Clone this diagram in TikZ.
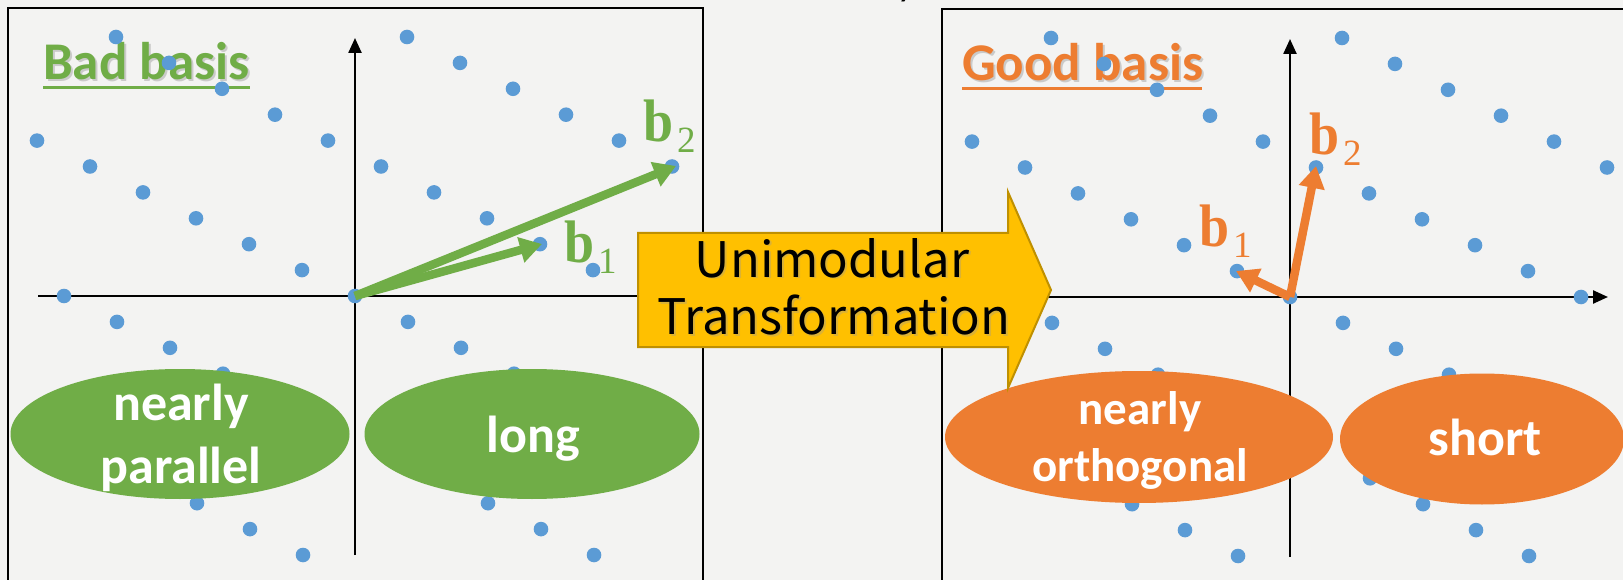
\documentclass[tikz,border=0pt]{standalone}
\usepackage{fontspec}
\setmainfont{Carlito}
\newfontfamily\jpfont{Noto Sans CJK JP}
\newfontfamily\serfont{Liberation Serif}
\usetikzlibrary{arrows.meta,shapes.geometric}
\definecolor{lgreen}{HTML}{70AD47}
\definecolor{lorange}{HTML}{ED7D31}
\definecolor{dotc}{HTML}{5B9BD5}
\definecolor{lyellow}{HTML}{FFC000}
\definecolor{lgold}{HTML}{BF9000}
\definecolor{paper}{HTML}{F3F3F2}
\tikzset{
  panel/.style={draw=black, line width=1.8pt},
  axis/.style={draw=black, line width=2.4pt, -{Triangle[length=15pt,width=13pt]}},
  vec/.style={line width=8.5pt, -{Triangle[length=22pt,width=25pt]}},
  title/.style={font=\fontsize{53}{60}\selectfont\bfseries, anchor=base west, inner sep=0},
  blob/.style={ellipse, inner sep=0},
  blobtext/.style={text=white, font=\fontsize{#1}{#1}\selectfont\bfseries, anchor=base, inner sep=0},
  blabel/.style={anchor=base west, inner sep=0},
  trtext/.style={font=\jpfont\fontsize{49}{49}\selectfont, anchor=base, inner sep=0},
}
\newcommand{\bvec}[1]{\scalebox{0.9}[1]{\serfont\bfseries\fontsize{60}{60}\selectfont b}\kern4pt\raisebox{-11pt}{\serfont\fontsize{37}{37}\selectfont #1}}
\begin{document}
\begin{tikzpicture}[x=1pt,y=-1pt]
\useasboundingbox (0,0) rectangle (1623,580);
\fill[paper] (0,0) rectangle (1623,580);
% fragment of text above
\node[font=\fontsize{40}{40}\selectfont, anchor=base west, inner sep=0] (frag) at (897,-4) {y};
% panels
\draw[panel] (8,620) -- (8,8) -- (703,8) -- (703,620);
\draw[panel] (942,620) -- (942,9) -- (1640,9);
% axes
\coordinate (L0) at (38,296);
\coordinate (L1) at (690,296);
\coordinate (L2) at (355,555);
\coordinate (L3) at (355,38);
\draw[axis] (L0) -- (L1);
\draw[axis] (L2) -- (L3);
\coordinate (R0) at (972,297);
\coordinate (R1) at (1608,297);
\coordinate (R2) at (1290,557);
\coordinate (R3) at (1290,39);
\draw[axis] (R0) -- (R1);
\draw[axis] (R2) -- (R3);
% titles
\node[title, text=black!40, opacity=0.45] (badsh) at (45,82) {Bad basis};
\node[title, text=lgreen] (bad) at (43,80) {Bad basis};
\draw[lgreen, line width=3pt] (43,88) -- (250,88);
\node[title, text=black!40, opacity=0.45] (goodsh) at (964,83) {Good basis};
\node[title, text=lorange] (good) at (962,81) {Good basis};
\draw[lorange, line width=3pt] (962,89) -- (1202,89);
% lattice dots
\foreach \j in {-10,...,10}{
  \foreach \i in {-3,...,3}{
    \pgfmathsetmacro\px{355+291*\i+53*\j}
    \pgfmathsetmacro\py{296+25.9*\j}
    \ifdim\px pt>25pt\relax\ifdim\px pt<690pt\relax
      \fill[dotc] (\px,\py) circle[radius=7.3];
    \fi\fi
    \pgfmathsetmacro\qx{1290+291*\i+53*\j}
    \pgfmathsetmacro\qy{297+25.9*\j}
    \ifdim\qx pt>955pt\relax\ifdim\qx pt<1615pt\relax
      \fill[dotc] (\qx,\qy) circle[radius=7.3];
    \fi\fi
  }
}
% basis vectors
\coordinate (O1) at (355,296);
\coordinate (G1) at (542,244);
\coordinate (G2) at (676,166);
\draw[vec, lgreen] (O1) -- (G1);
\draw[vec, lgreen] (O1) -- (G2);
\coordinate (O2) at (1290,297);
\coordinate (H1) at (1236,271);
\coordinate (H2) at (1316,166);
\draw[vec, lorange] (O2) -- (H1);
\draw[vec, lorange] (O2) -- (H2);
% vector labels
\node[blabel, text=lgreen] (gb2) at (643,142) {\bvec{2}};
\node[blabel, text=lgreen] (gb1) at (564,262) {\bvec{1}};
\node[blabel, text=lorange] (ob2) at (1309,155) {\bvec{2}};
\node[blabel, text=lorange] (ob1) at (1199,247) {\bvec{1}};
% ellipses
\node[blob, fill=lgreen, minimum width=339pt, minimum height=130pt] (np) at (180,434) {};
\node[blobtext=52] (npa) at (181,420) {nearly};
\node[blobtext=52] (npb) at (181,483) {parallel};
\node[blob, fill=lgreen, minimum width=335pt, minimum height=130pt] (lg) at (532,434) {};
\node[blobtext=52] (lga) at (533,452) {long};
\node[blob, fill=lorange, minimum width=388pt, minimum height=132pt] (no) at (1139,437) {};
\node[blobtext=47] (noa) at (1140,424) {nearly};
\node[blobtext=47] (nob) at (1140,481) {orthogonal};
\node[blob, fill=lorange, minimum width=284pt, minimum height=131pt] (sh) at (1482,439) {};
\node[blobtext=52] (sha) at (1485,455) {short};
% transformation arrow
\draw[fill=lyellow, draw=lgold, line width=2pt, line join=miter]
  (638,233) -- (1008,233) -- (1008,192) -- (1051,290) -- (1008,388) -- (1008,347) -- (638,347) -- cycle;
\node[trtext, text=black!40, opacity=0.35] (tr1s) at (834,279) {Unimodular};
\node[trtext, text=black!40, opacity=0.35] (tr2s) at (836,336) {Transformation};
\node[trtext] (tr1) at (832,277) {Unimodular};
\node[trtext] (tr2) at (834,334) {Transformation};
\end{tikzpicture}
\end{document}
